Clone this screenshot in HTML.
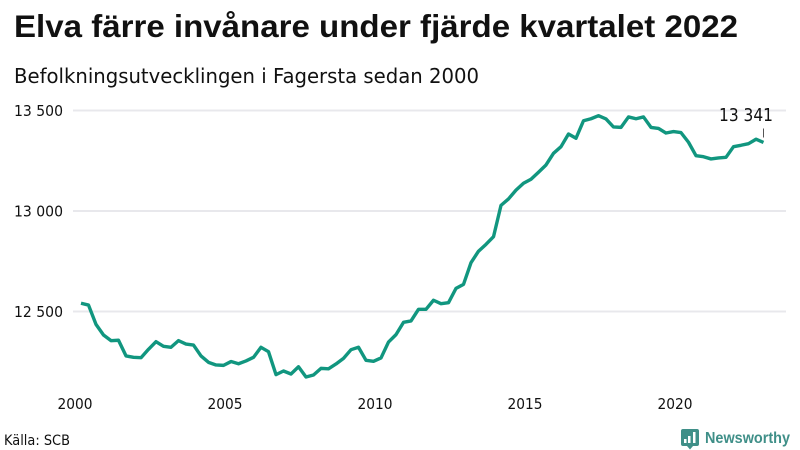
<!DOCTYPE html>
<html lang="sv">
<head>
<meta charset="utf-8">
<title>Elva färre invånare under fjärde kvartalet 2022</title>
<style>
html,body{margin:0;padding:0;background:#fff;}
svg{display:block;}
text{font-family:"DejaVu Sans","Liberation Sans",sans-serif;fill:#111;}
text.lib{font-family:"Liberation Sans","DejaVu Sans",sans-serif;}
</style>
</head>
<body>
<svg id="chart" width="800" height="450" viewBox="0 0 800 450" xmlns="http://www.w3.org/2000/svg">
  <rect width="800" height="450" fill="#ffffff"/>
  <text class="lib" x="14" y="37" font-size="31.5" font-weight="700" textLength="724" lengthAdjust="spacingAndGlyphs">Elva färre invånare under fjärde kvartalet 2022</text>
  <text x="14" y="83" font-size="20" textLength="465" lengthAdjust="spacingAndGlyphs">Befolkningsutvecklingen i Fagersta sedan 2000</text>
  <g id="grid"></g>
  <g id="yticks"></g>
  <g id="xticks"></g>
  <path id="series" fill="none" stroke="#11967f" stroke-width="3.4" stroke-linejoin="round" stroke-linecap="butt"></path>
  <line id="lastTick" stroke="#555" stroke-width="1"></line>
  <text id="lastLabel" font-size="18" text-anchor="end" textLength="54" lengthAdjust="spacingAndGlyphs"></text>
  <text x="4" y="445" font-size="14" textLength="66" lengthAdjust="spacingAndGlyphs">Källa: SCB</text>
  <g>
    <path fill="#3f8f88" d="M683 429h14a2 2 0 0 1 2 2v13a2 2 0 0 1-2 2h-4l-3 3.500-3-3.500h-4a2 2 0 0 1-2-2v-13a2 2 0 0 1 2-2z"/>
    <rect x="684" y="439" width="2.500" height="4" fill="#fff"/>
    <rect x="688" y="436" width="2.500" height="7" fill="#fff"/>
    <rect x="693" y="432" width="2.500" height="11" fill="#fff"/>
    <text class="lib" x="705" y="443" font-size="16" font-weight="700" style="fill:#3f8f88" textLength="85" lengthAdjust="spacingAndGlyphs">Newsworthy</text>
  </g>
</svg>
<script>
var yTickValues = [12500, 13000, 13500];
var yTickLabels = ["12 500", "13 000", "13 500"];
var xTickYears = [2000, 2005, 2010, 2015, 2020];
var startYear = 2000;
var quartersPerYear = 4;
var populationValues = [
  12541, 12532, 12436, 12383, 12355, 12357, 12279, 12272,
  12270, 12312, 12350, 12327, 12322, 12355, 12338, 12333,
  12279, 12247, 12234, 12232, 12251, 12240, 12254, 12272,
  12322, 12300, 12186, 12204, 12189, 12225, 12174, 12184,
  12217, 12215, 12239, 12267, 12310, 12322, 12257, 12252,
  12269, 12348, 12385, 12446, 12453, 12511, 12511, 12556,
  12539, 12544, 12615, 12635, 12743, 12800, 12834, 12872,
  13028, 13060, 13104, 13138, 13158, 13193, 13229, 13287,
  13320, 13383, 13362, 13449, 13459, 13474, 13458, 13418,
  13416, 13468, 13459, 13468, 13416, 13411, 13388, 13395,
  13390, 13342, 13275, 13270, 13259, 13264, 13267, 13320,
  13327, 13335, 13357, 13341
];
var lastValueLabel = "13 341";

var NS = "http://www.w3.org/2000/svg";
function xScale(year) { return 75 + (year - 2000) * 30; }
function yScale(v) { return 211 - (v - 13000) * 0.201; }
function yearOfIndex(i) { return startYear + 0.2 + i / quartersPerYear; }

var grid = document.getElementById("grid");
var yticks = document.getElementById("yticks");
yTickValues.forEach(function (v, i) {
  var l = document.createElementNS(NS, "line");
  
  
  l.setAttribute("x1", 73);
  l.setAttribute("x2", 786);
  l.setAttribute("y1", yScale(v));
  l.setAttribute("y2", yScale(v));
  l.setAttribute("stroke", "#e8e8ec");
  l.setAttribute("stroke-width", 2);
  grid.appendChild(l);
  var t = document.createElementNS(NS, "text");
  
  
  t.setAttribute("x", 14);
  t.setAttribute("y", yScale(v) + 5.5);
  t.setAttribute("font-size", 15.5);
  t.setAttribute("textLength", 49);
  t.setAttribute("lengthAdjust", "spacingAndGlyphs");
  t.textContent = yTickLabels[i];
  yticks.appendChild(t);
});

var xticks = document.getElementById("xticks");
xTickYears.forEach(function (y) {
  var t = document.createElementNS(NS, "text");
  
  
  t.setAttribute("x", xScale(y) - 17.5);
  t.setAttribute("y", 409);
  t.setAttribute("font-size", 15.5);
  t.setAttribute("textLength", 35);
  t.setAttribute("lengthAdjust", "spacingAndGlyphs");
  t.textContent = String(y);
  xticks.appendChild(t);
});

var d = populationValues.map(function (v, i) {
  return (i ? "L" : "M") + xScale(yearOfIndex(i)).toFixed(2) + " " + yScale(v).toFixed(2);
}).join("");
document.getElementById("series").setAttribute("d", d);

var lastIndex = populationValues.length - 1;
var lastX = xScale(yearOfIndex(lastIndex));
var lastY = yScale(populationValues[lastIndex]);
var lastTick = document.getElementById("lastTick");
lastTick.setAttribute("x1", lastX);
lastTick.setAttribute("x2", lastX);
lastTick.setAttribute("y1", lastY - 14);
lastTick.setAttribute("y2", lastY - 5);
var lastLabel = document.getElementById("lastLabel");
lastLabel.setAttribute("x", lastX + 9.5);
lastLabel.setAttribute("y", lastY - 21.5);
lastLabel.textContent = lastValueLabel;
</script>
</body>
</html>
